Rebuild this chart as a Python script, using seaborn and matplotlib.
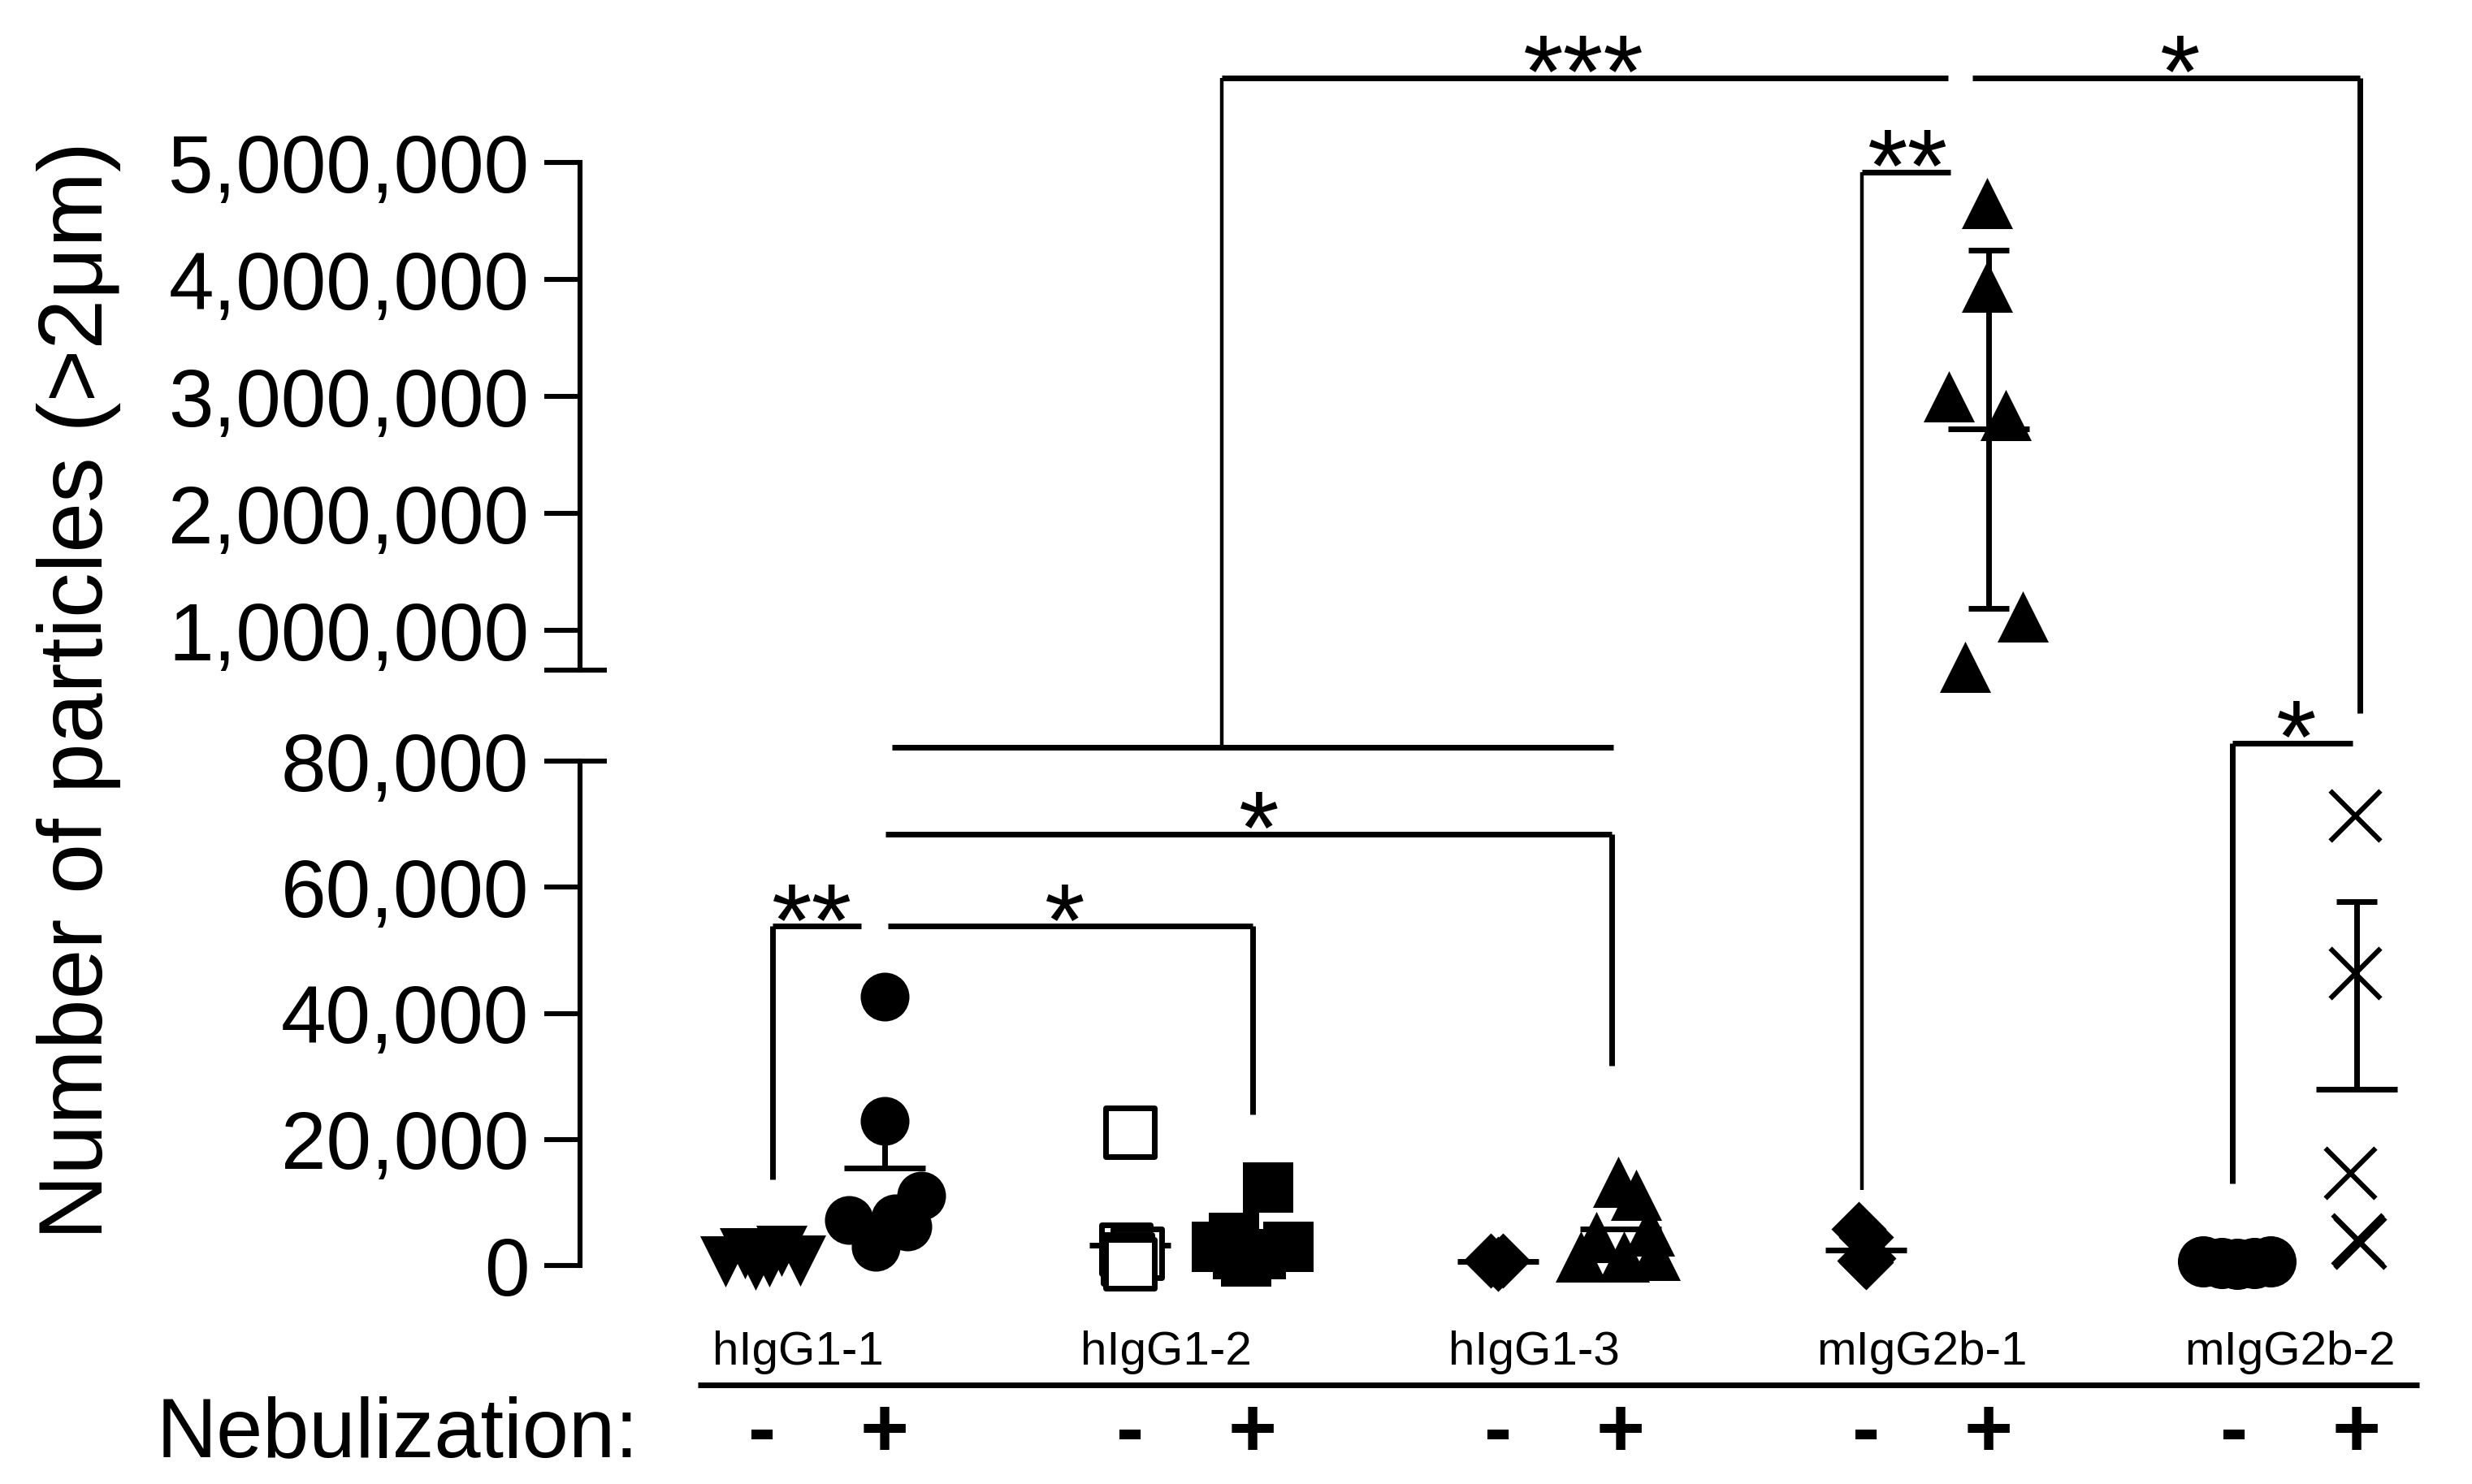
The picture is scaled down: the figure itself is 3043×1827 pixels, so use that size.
import matplotlib
matplotlib.use('Agg')
import pandas as pd
import matplotlib.pyplot as plt
import seaborn as sns
from matplotlib import font_manager
from matplotlib.lines import Line2D
from matplotlib.ticker import FuncFormatter

# ---- data ----
groups = ['hIgG1-1', 'hIgG1-2', 'hIgG1-3', 'mIgG2b-1', 'mIgG2b-2']
conditions = ['-', '+']

hIgG1_1_neg = [640, 1900, 130, 640, 2300, 770]
hIgG1_1_pos = [42600, 22900, 7200, 3000, 7500, 6200, 11100]
hIgG1_2_neg = [21100, 2600, 2000, 1000, 300]
hIgG1_2_pos = [12400, 4400, 3000, 3000, 1800, 1800, 700]
hIgG1_3_neg = [800, 800, 300]
hIgG1_3_pos = [13300, 11200, 5500, 4500, 1700, 1400, 1400]
mIgG2b_1_neg = [5800, 4500, 1200, 800, 500]
mIgG2b_1_pos = [4650000, 3940000, 3000000, 2840000, 1120000, 690000]
mIgG2b_2_neg = [600, 400, 300, 400, 600]
mIgG2b_2_pos = [71400, 46400, 14700, 4100, 3600]

# horizontal scatter of the points around their column
hIgG1_1_neg_dx = [-0.30, -0.14, -0.05, 0.06, 0.16, 0.31]
hIgG1_1_pos_dx = [0.0, 0.0, -0.29, -0.07, 0.09, 0.19, 0.30]
hIgG1_2_neg_dx = [0.0, -0.03, 0.06, -0.02, 0.0]
hIgG1_2_pos_dx = [0.13, -0.15, -0.29, 0.29, -0.12, 0.07, -0.05]
hIgG1_3_neg_dx = [-0.06, 0.04, 0.0]
hIgG1_3_pos_dx = [-0.02, 0.13, 0.23, -0.20, 0.28, -0.32, 0.03]
mIgG2b_1_neg_dx = [-0.06, 0.0, 0.02, -0.01, 0.0]
mIgG2b_1_pos_dx = [-0.01, -0.01, -0.32, 0.14, 0.28, -0.19]
mIgG2b_2_neg_dx = [-0.25, -0.10, 0.03, 0.17, 0.30]
mIgG2b_2_pos_dx = [-0.01, -0.01, -0.05, 0.01, 0.03]

# mean line and error bar (upper / lower part) per column, in column order
means = [1000, 15500, 3200, 4000, 600, 5800, 2400, 2720000, 400, 27900]
err_up = [0, 6000, 1600, 0, 0, 0, 0, 1530000, 0, 29800]
err_down = [0, 0, 0, 0, 0, 0, 0, 1530000, 0, 0]

hi_ticks = [1000000, 2000000, 3000000, 4000000, 5000000]
lo_ticks = [0, 20000, 40000, 60000, 80000]

series = [
    (hIgG1_1_neg, hIgG1_1_neg_dx), (hIgG1_1_pos, hIgG1_1_pos_dx),
    (hIgG1_2_neg, hIgG1_2_neg_dx), (hIgG1_2_pos, hIgG1_2_pos_dx),
    (hIgG1_3_neg, hIgG1_3_neg_dx), (hIgG1_3_pos, hIgG1_3_pos_dx),
    (mIgG2b_1_neg, mIgG2b_1_neg_dx), (mIgG2b_1_pos, mIgG2b_1_pos_dx),
    (mIgG2b_2_neg, mIgG2b_2_neg_dx), (mIgG2b_2_pos, mIgG2b_2_pos_dx),
]

rows = []
for k, (vals, dx) in enumerate(series):
    g, c = groups[k // 2], conditions[k % 2]
    pos = 3 * (k // 2) + (k % 2)
    for v, d in zip(vals, dx):
        rows.append({'group': g, 'cond': c, 'col': k, 'pos': pos, 'x': pos + d, 'value': v})
df = pd.DataFrame(rows)

# marker look per column
styles = [
    dict(marker='v', s=515, color='black', linewidth=0),
    dict(marker='o', s=467, color='black', linewidth=0),
    dict(marker='s', s=470, color='white', edgecolor='black', linewidth=2.5),
    dict(marker='s', s=497, color='black', linewidth=0),
    dict(marker='D', s=300, color='black', linewidth=0),
    dict(marker='^', s=515, color='black', linewidth=0),
    dict(marker='D', s=300, color='black', linewidth=0),
    dict(marker='^', s=515, color='black', linewidth=0),
    dict(marker='o', s=515, color='black', linewidth=0),
    dict(marker='x', s=497, color='black', linewidth=2.2),
]

sns.set_style('ticks')
plt.rcParams['font.family'] = ['Liberation Sans', 'DejaVu Sans']
plt.rcParams.update({'text.color': 'black', 'axes.edgecolor': 'black',
                     'ytick.color': 'black', 'xtick.color': 'black',
                     'axes.labelcolor': 'black'})
installed = {f.name for f in font_manager.fontManager.ttflist}
if 'Liberation Sans Narrow' in installed:
    label_font, label_size = ['Liberation Sans Narrow', 'Liberation Sans'], 24
else:
    label_font, label_size = ['Liberation Sans', 'DejaVu Sans'], 21

fig = plt.figure(figsize=(3043 / 200, 1827 / 200), dpi=200)
ax_hi = fig.add_axes([0.2346, 0.5484, 0.7512, 0.3421])
ax_lo = fig.add_axes([0.2346, 0.1472, 0.7512, 0.3399])
LO_MAX = 80000

for k in range(len(series)):
    sub = df[df['col'] == k]
    for ax, part in ((ax_lo, sub[sub['value'] <= LO_MAX]), (ax_hi, sub[sub['value'] > LO_MAX])):
        if len(part):
            sns.scatterplot(data=part, x='x', y='value', ax=ax, legend=False,
                            clip_on=False, zorder=5, **styles[k])

# mean lines and error bars
for k, m in enumerate(means):
    pos = 3 * (k // 2) + (k % 2)
    ax = ax_hi if m > LO_MAX else ax_lo
    ax.hlines(m, pos - 0.33, pos + 0.33, color='black', lw=2.5, zorder=3, clip_on=False)
    if err_up[k] > 0:
        ax.vlines(pos, m, m + err_up[k], color='black', lw=2.5, zorder=3, clip_on=False)
        ax.hlines(m + err_up[k], pos - 0.165, pos + 0.165, color='black', lw=2.5, zorder=3, clip_on=False)
    if err_down[k] > 0:
        ax.vlines(pos, m - err_down[k], m, color='black', lw=2.5, zorder=3, clip_on=False)
        ax.hlines(m - err_down[k], pos - 0.165, pos + 0.165, color='black', lw=2.5, zorder=3, clip_on=False)

fmt = FuncFormatter(lambda v, p: f'{v:,.0f}')
for ax in (ax_hi, ax_lo):
    ax.set_xlim(-1.483, 13.656)
    ax.set_xticks([])
    ax.set_xlabel('')
    ax.set_ylabel('')
    sns.despine(ax=ax, bottom=True)
    ax.spines['left'].set_linewidth(2.2)
    ax.spines['left'].set_color('black')
    ax.tick_params(axis='y', left=True, direction='out', length=16, width=2.2,
                   labelsize=36, pad=6.5, color='black', labelcolor='black')
    ax.yaxis.set_major_formatter(fmt)
ax_hi.set_ylim(660000, 5000000)
ax_hi.set_yticks(hi_ticks)
ax_lo.set_ylim(0, LO_MAX)
ax_lo.set_yticks(lo_ticks)

# axis break marks
for ax, y in ((ax_hi, ax_hi.get_ylim()[0]), (ax_lo, LO_MAX)):
    ax.plot([-0.0194, 0.0144], [y, y], transform=ax.get_yaxis_transform(), color='black',
            lw=2.2, clip_on=False, solid_capstyle='butt')

# significance brackets, spanning both axes
axes = {'lo': ax_lo, 'hi': ax_hi}


def fig_xy(key, x, y):
    return fig.transFigure.inverted().transform(axes[key].transData.transform((x, y)))


def seg(p, q, lw=2.5):
    a, b = fig_xy(*p), fig_xy(*q)
    fig.add_artist(Line2D([a[0], b[0]], [a[1], b[1]], transform=fig.transFigure,
                          color='black', lw=lw, solid_capstyle='butt'))


def stars(key, x, y, txt):
    axes[key].annotate(txt, xy=(x, y), xytext=(0, -13), textcoords='offset points',
                       ha='center', va='baseline', fontsize=46, annotation_clip=False)


seg(('lo', 0.09, 53800), ('lo', 0.81, 53800))
seg(('lo', 0.09, 53800), ('lo', 0.09, 13700))
stars('lo', 0.41, 53800, '**')

seg(('lo', 1.03, 53800), ('lo', 4.0, 53800))
seg(('lo', 4.0, 53800), ('lo', 4.0, 24000))
stars('lo', 2.47, 53800, '*')

seg(('lo', 1.01, 68400), ('lo', 6.93, 68400))
seg(('lo', 6.93, 68400), ('lo', 6.93, 31700))
stars('lo', 4.05, 68400, '*')

seg(('lo', 1.06, 82200), ('lo', 6.94, 82200))
seg(('lo', 3.75, 82200), ('hi', 3.75, 5720000), lw=1.6)
seg(('hi', 3.75, 5720000), ('hi', 9.67, 5720000))
stars('hi', 6.70, 5720000, '***')

seg(('hi', 9.87, 5720000), ('hi', 13.03, 5720000))
seg(('hi', 13.03, 5720000), ('lo', 13.03, 87600))
stars('hi', 11.56, 5720000, '*')

seg(('hi', 8.97, 4920000), ('hi', 9.69, 4920000))
seg(('hi', 8.97, 4920000), ('lo', 8.97, 12000), lw=1.6)
stars('hi', 9.34, 4920000, '**')

seg(('lo', 11.99, 82900), ('lo', 12.97, 82900))
seg(('lo', 11.99, 82900), ('lo', 11.99, 13000))
stars('lo', 12.51, 82900, '*')

# group labels and nebulization row
tx = ax_lo.get_xaxis_transform()
for gi, g in enumerate(groups):
    ax_lo.text(3 * gi - 0.40, -0.196, g, transform=tx, ha='left', va='baseline',
               fontsize=label_size, family=label_font, clip_on=False)
ax_lo.plot([-0.52, 13.51], [-0.2367, -0.2367], transform=tx, color='black', lw=2.5,
           clip_on=False, solid_capstyle='butt')
ax_lo.text(-1.007, -0.378, 'Nebulization:', transform=tx, ha='right', va='baseline', fontsize=37)
for gi in range(len(groups)):
    for ci, c in enumerate(conditions):
        ax_lo.text(3 * gi + ci, -0.378, c, transform=tx, ha='center', va='baseline',
                   fontsize=37, fontweight='bold')

fig.text(0.032, 0.535, 'Number of particles (>2μm)', rotation=90, ha='center', va='center',
         fontsize=40)

fig.savefig('out.png', dpi=200)
